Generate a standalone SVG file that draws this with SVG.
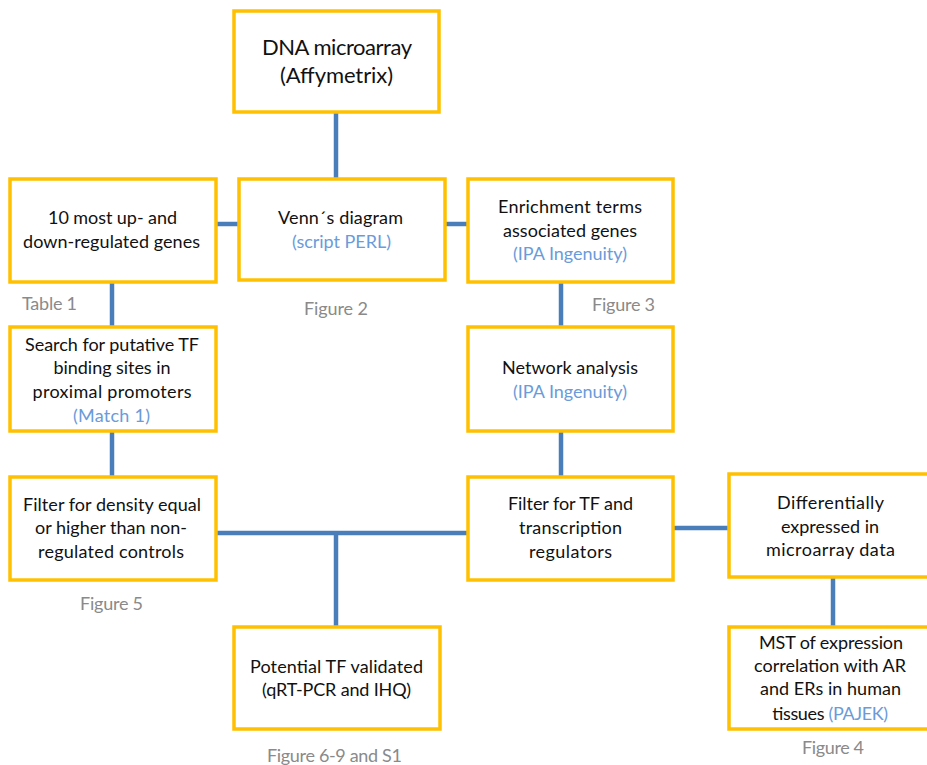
<svg xmlns="http://www.w3.org/2000/svg" width="927" height="765" viewBox="0 0 927 765">
<style>
.box{fill:#FFFFFF;stroke:#FFC000;stroke-width:3.5}
.conn{stroke:#4A7EBB;stroke-width:4.5;fill:none}
text{font-family:Lato,"Open Sans","Liberation Sans",sans-serif;font-size:18px;fill:#111111;text-anchor:middle}
.big{font-size:22px}
.tool{fill:#6A9BDA}
.fig{fill:#8A8A8A;text-anchor:middle}
</style>
<rect width="927" height="765" fill="#FFFFFF"/>
<g id="connectors">
<line class="conn" x1="336" y1="112" x2="336" y2="179"/>
<line class="conn" x1="216" y1="224" x2="239" y2="224"/>
<line class="conn" x1="445" y1="224" x2="468" y2="224"/>
<line class="conn" x1="112" y1="282" x2="112" y2="327"/>
<line class="conn" x1="112" y1="431" x2="112" y2="477"/>
<line class="conn" x1="561" y1="282" x2="561" y2="327"/>
<line class="conn" x1="561" y1="431" x2="561" y2="477"/>
<line class="conn" x1="216" y1="533" x2="468" y2="533"/>
<line class="conn" x1="336" y1="533" x2="336" y2="627"/>
<line class="conn" x1="673" y1="528" x2="729" y2="528"/>
<line class="conn" x1="833" y1="577" x2="833" y2="627"/>
</g>
<g id="dna">
<rect class="box" x="234" y="11" width="205" height="101"/>
<text class="big" x="337" y="55" textLength="150">DNA microarray</text>
<text class="big" x="336.5" y="83" textLength="113">(Affymetrix)</text>
</g>
<g id="top10">
<rect class="box" x="10" y="179" width="206" height="103"/>
<text x="112.5" y="224" textLength="129">10 most up-  and</text>
<text x="111.5" y="248" textLength="177">down-regulated genes</text>
<text class="fig" x="49.5" y="310" textLength="55">Table 1</text>
</g>
<g id="venn">
<rect class="box" x="239" y="179" width="206" height="101"/>
<text x="340.5" y="224" textLength="125">Venn´s diagram</text>
<text class="tool" x="341.5" y="248" textLength="99">(script PERL)</text>
<text class="fig" x="336" y="315" textLength="64">Figure 2</text>
</g>
<g id="enrichment">
<rect class="box" x="468" y="179" width="205" height="103"/>
<text x="570" y="213" textLength="144">Enrichment terms</text>
<text x="570" y="237" textLength="134">associated genes</text>
<text class="tool" x="570" y="260" textLength="114">(IPA Ingenuity)</text>
<text class="fig" x="623.5" y="311" textLength="63">Figure 3</text>
</g>
<g id="search">
<rect class="box" x="10" y="327" width="206" height="104"/>
<text x="112" y="351" textLength="174">Search for putative TF</text>
<text x="112" y="374" textLength="117">binding sites in</text>
<text x="112" y="398" textLength="159">proximal promoters</text>
<text class="tool" x="111.5" y="422" textLength="77">(Match 1)</text>
</g>
<g id="network">
<rect class="box" x="468" y="327" width="205" height="104"/>
<text x="570" y="374" textLength="136">Network analysis</text>
<text class="tool" x="570" y="398" textLength="114">(IPA Ingenuity)</text>
</g>
<g id="filter-density">
<rect class="box" x="10" y="477" width="206" height="103"/>
<text x="112" y="511" textLength="178">Filter for density equal</text>
<text x="111" y="534" textLength="152">or higher than non-</text>
<text x="111" y="558" textLength="146">regulated controls</text>
<text class="fig" x="111.5" y="610" textLength="63">Figure 5</text>
</g>
<g id="filter-tf">
<rect class="box" x="468" y="477" width="205" height="103"/>
<text x="570.5" y="510" textLength="125">Filter for TF and</text>
<text x="570.5" y="534" textLength="103">transcription</text>
<text x="570.5" y="558" textLength="83">regulators</text>
</g>
<g id="differential">
<rect class="box" x="729" y="474" width="210" height="103"/>
<text x="830.5" y="509" textLength="107">Differentially</text>
<text x="830" y="533" textLength="98">expressed in</text>
<text x="830.5" y="556" textLength="129">microarray data</text>
</g>
<g id="potential">
<rect class="box" x="234" y="627" width="206" height="102"/>
<text x="336.5" y="673" textLength="173">Potential TF validated</text>
<text x="336.5" y="696" textLength="149">(qRT-PCR and IHQ)</text>
<text class="fig" x="334.5" y="762" textLength="135">Figure 6-9 and S1</text>
</g>
<g id="mst">
<rect class="box" x="729" y="627" width="210" height="102"/>
<text x="831" y="649" textLength="144">MST of expression</text>
<text x="830" y="672" textLength="152">correlation with AR</text>
<text x="830.5" y="695" textLength="141">and ERs in human</text>
<text x="830" y="720" textLength="116">tissues <tspan class="tool">(PAJEK)</tspan></text>
<text class="fig" x="833" y="754" textLength="62">Figure 4</text>
</g>
</svg>
